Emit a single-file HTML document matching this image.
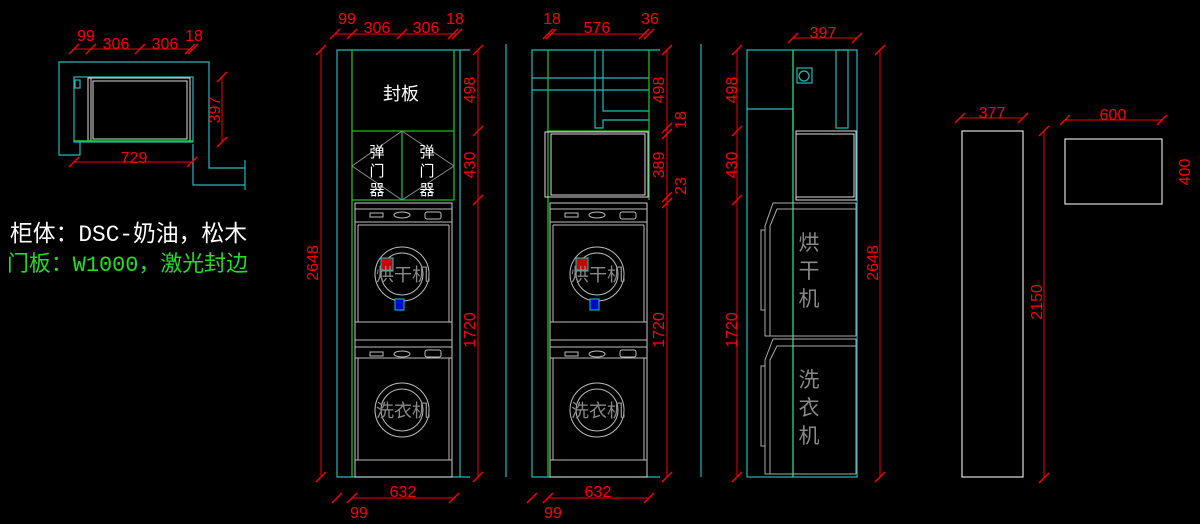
<!DOCTYPE html><html><head><meta charset="utf-8"><style>body{margin:0;background:#000}svg{display:block}text{font-family:"Liberation Sans","Noto Sans CJK SC",sans-serif}</style></head><body>
<svg width="1200" height="524" viewBox="0 0 1200 524" xmlns="http://www.w3.org/2000/svg">
<defs>
<g id="stack" fill="none" stroke="#bbb" stroke-width="1">
<rect x="0" y="0" width="97" height="274" stroke="#ccc"/>
<line x1="0" y1="6" x2="97" y2="6"/><line x1="0" y1="19" x2="97" y2="19"/><line x1="3" y1="22" x2="94" y2="22"/>
<rect x="15" y="10" width="13" height="4"/><ellipse cx="47" cy="12" rx="8" ry="3"/><rect x="70" y="9" width="16" height="7" rx="2"/>
<line x1="3" y1="22" x2="3" y2="119"/><line x1="94" y1="22" x2="94" y2="119"/>
<circle cx="47" cy="71" r="27"/><circle cx="47" cy="71" r="21"/>
<line x1="0" y1="119" x2="97" y2="119"/><line x1="0" y1="137" x2="97" y2="137"/><line x1="0" y1="144" x2="97" y2="144"/><line x1="0" y1="155" x2="97" y2="155"/>
<rect x="15" y="149" width="13" height="4"/><ellipse cx="47" cy="151" rx="8" ry="3"/><rect x="70" y="147" width="16" height="7" rx="2"/>
<line x1="3" y1="155" x2="3" y2="257"/><line x1="94" y1="155" x2="94" y2="257"/><line x1="0" y1="257" x2="97" y2="257"/>
<circle cx="47" cy="207" r="27"/><circle cx="47" cy="207" r="21"/>
<rect x="26" y="55" width="12" height="13" fill="#c00" stroke="#0cc"/><rect x="40" y="96" width="9" height="11" fill="#00c" stroke="#0cc"/>
</g>
<g id="tk" stroke="#f00" stroke-width="1.3"><line x1="-5" y1="5" x2="5" y2="-5"/></g>
</defs>
<g stroke="#e00" stroke-width="1" fill="#f00" font-size="16">
<!-- plan view -->
<g fill="none" stroke="#2bb" stroke-width="1.2">
<polyline points="80,142 80,155 59,155 59,62 209,62 209,168 245,168"/><polyline points="245,160 245,190"/><polyline points="193,144 193,185 245,185"/>
<rect x="74" y="77" width="119" height="65"/><rect x="75" y="80" width="5" height="8"/>
</g>
<g fill="none" stroke="#ddd"><rect x="88" y="78" width="102" height="63"/><rect x="93" y="81" width="94" height="58"/><line x1="91" y1="78" x2="91" y2="141"/></g>
<line x1="74" y1="141" x2="193" y2="141" stroke="#2c2" stroke-width="1.5"/>
<line x1="74" y1="49" x2="192" y2="49"/><use href="#tk" x="74" y="49"/><use href="#tk" x="91" y="49"/><use href="#tk" x="140" y="49"/><use href="#tk" x="190" y="49"/><use href="#tk" x="193" y="49"/>
<line x1="74" y1="162" x2="192" y2="162"/><use href="#tk" x="74" y="162"/><use href="#tk" x="192" y="162"/>
<line x1="222" y1="77" x2="222" y2="142"/><use href="#tk" x="222" y="77"/><use href="#tk" x="222" y="142"/>
<g stroke="none"><text x="86" y="41" text-anchor="middle">99</text><text x="116" y="49" text-anchor="middle">306</text><text x="165" y="49" text-anchor="middle">306</text><text x="194" y="41" text-anchor="middle">18</text><text x="134" y="163" text-anchor="middle">729</text><text transform="translate(220,110) rotate(-90)" text-anchor="middle">397</text></g>
<text x="10" y="241" fill="#fff" stroke="none" font-size="23" textLength="237" lengthAdjust="spacingAndGlyphs" style="font-family:'Liberation Mono','Noto Sans CJK SC',monospace">柜体：DSC-奶油，松木</text>
<text x="7" y="271" fill="#2d2" stroke="none" font-size="22" textLength="241" lengthAdjust="spacingAndGlyphs" style="font-family:'Liberation Mono','Noto Sans CJK SC',monospace">门板：W1000，激光封边</text>

<!-- view 1 -->
<g fill="none" stroke="#2bb" stroke-width="1.2"><polyline points="470,50 337,50 337,477 470,477"/><line x1="460" y1="50" x2="460" y2="477"/><line x1="506" y1="44" x2="506" y2="477"/></g>
<g fill="none" stroke="#2b2" stroke-width="1.3"><line x1="352" y1="50" x2="352" y2="477"/><line x1="454" y1="50" x2="454" y2="200"/><line x1="352" y1="131" x2="454" y2="131"/><line x1="352" y1="200" x2="454" y2="200"/><line x1="402" y1="131" x2="402" y2="200"/></g>
<polyline points="402,131 352,166 402,200 454,166 402,131" fill="none" stroke="#888"/>
<use href="#stack" x="355" y="203"/>
<g stroke="none" fill="#fff" font-size="18" text-anchor="middle"><text x="401" y="100">封板</text><text x="377" y="157" font-size="15">弹</text><text x="377" y="176" font-size="15">门</text><text x="377" y="195" font-size="15">器</text><text x="427" y="157" font-size="15">弹</text><text x="427" y="176" font-size="15">门</text><text x="427" y="195" font-size="15">器</text></g>
<g stroke="none" fill="#888" font-size="18" text-anchor="middle"><text x="403" y="281">烘干机</text><text x="403" y="417">洗衣机</text></g>
<line x1="321" y1="50" x2="321" y2="477"/><use href="#tk" x="321" y="50"/><use href="#tk" x="321" y="477"/>
<line x1="478" y1="50" x2="478" y2="477"/><use href="#tk" x="478" y="50"/><use href="#tk" x="478" y="131"/><use href="#tk" x="478" y="200"/><use href="#tk" x="478" y="477"/>
<line x1="335" y1="34" x2="457" y2="34"/><use href="#tk" x="335" y="34"/><use href="#tk" x="352" y="34"/><use href="#tk" x="402" y="34"/><use href="#tk" x="453" y="34"/><use href="#tk" x="457" y="34"/>
<line x1="352" y1="498" x2="454" y2="498"/><use href="#tk" x="337" y="498"/><use href="#tk" x="352" y="498"/><use href="#tk" x="454" y="498"/>
<g stroke="none"><text x="347" y="24" text-anchor="middle">99</text><text x="377" y="33" text-anchor="middle">306</text><text x="426" y="33" text-anchor="middle">306</text><text x="455" y="24" text-anchor="middle">18</text><text x="403" y="497" text-anchor="middle">632</text><text x="359" y="518" text-anchor="middle">99</text>
<text transform="translate(318,263) rotate(-90)" text-anchor="middle">2648</text><text transform="translate(475,90) rotate(-90)" text-anchor="middle">498</text><text transform="translate(475,165) rotate(-90)" text-anchor="middle">430</text><text transform="translate(475,330) rotate(-90)" text-anchor="middle">1720</text></g>

<!-- view 2 -->
<g fill="none" stroke="#2bb" stroke-width="1.2"><polyline points="660,50 532,50 532,477 660,477"/><line x1="701" y1="44" x2="701" y2="477"/><line x1="532" y1="78" x2="649" y2="78"/><line x1="532" y1="90" x2="649" y2="90"/><polyline points="595,50 595,128 603,128 603,120 649,120"/><polyline points="603,50 603,111 649,111"/></g>
<g fill="none" stroke="#2b2" stroke-width="1.3"><line x1="548" y1="50" x2="548" y2="477"/><line x1="649" y1="50" x2="649" y2="200"/><line x1="548" y1="131" x2="649" y2="131"/></g>
<g fill="none" stroke="#ddd"><rect x="545" y="132" width="103" height="65"/><rect x="551" y="134" width="94" height="61"/></g>
<use href="#stack" x="550" y="203"/>
<g stroke="none" fill="#888" font-size="18" text-anchor="middle"><text x="598" y="281">烘干机</text><text x="598" y="417">洗衣机</text></g>
<line x1="667" y1="50" x2="667" y2="477"/><use href="#tk" x="667" y="50"/><use href="#tk" x="667" y="128"/><use href="#tk" x="667" y="134"/><use href="#tk" x="667" y="197"/><use href="#tk" x="667" y="203"/><use href="#tk" x="667" y="477"/>
<line x1="548" y1="34" x2="647" y2="34"/><use href="#tk" x="548" y="34"/><use href="#tk" x="551" y="34"/><use href="#tk" x="644" y="34"/><use href="#tk" x="649" y="34"/>
<line x1="548" y1="498" x2="649" y2="498"/><use href="#tk" x="532" y="498"/><use href="#tk" x="548" y="498"/><use href="#tk" x="649" y="498"/>
<g stroke="none"><text x="552" y="24" text-anchor="middle">18</text><text x="597" y="33" text-anchor="middle">576</text><text x="650" y="24" text-anchor="middle">36</text><text x="598" y="497" text-anchor="middle">632</text><text x="553" y="518" text-anchor="middle">99</text>
<text transform="translate(664,90) rotate(-90)" text-anchor="middle">498</text><text transform="translate(686,120) rotate(-90)" text-anchor="middle">18</text><text transform="translate(664,165) rotate(-90)" text-anchor="middle">389</text><text transform="translate(686,186) rotate(-90)" text-anchor="middle">23</text><text transform="translate(664,330) rotate(-90)" text-anchor="middle">1720</text></g>

<!-- view 3 -->
<g fill="none" stroke="#2bb" stroke-width="1.2"><rect x="747" y="50" width="110" height="427"/><polyline points="747,109 793,109 793,131"/><rect x="836" y="50" width="12" height="78"/><rect x="797" y="68" width="15" height="15"/><circle cx="804" cy="76" r="5"/></g>
<line x1="793" y1="50" x2="793" y2="477" stroke="#2d8" stroke-width="1.3"/>
<g fill="none" stroke="#ddd"><rect x="796" y="131" width="60" height="69"/><rect x="796" y="134" width="58" height="63"/></g>
<g fill="none" stroke="#aaa"><polyline points="856,203 773,203 765,226 765,336 856,336"/><polyline points="856,209 777,209 770,226 770,336"/><rect x="761" y="230" width="4" height="80"/><line x1="856" y1="203" x2="856" y2="336"/>
<polyline points="856,339 773,339 765,360 765,474 856,474"/><polyline points="856,346 777,346 770,360 770,474"/><rect x="761" y="366" width="4" height="80"/><line x1="856" y1="339" x2="856" y2="474"/></g>
<g stroke="none" fill="#888" font-size="21" text-anchor="middle"><text x="809" y="250">烘</text><text x="809" y="278">干</text><text x="809" y="306">机</text><text x="809" y="387">洗</text><text x="809" y="415">衣</text><text x="809" y="443">机</text></g>
<line x1="737" y1="50" x2="737" y2="477"/><use href="#tk" x="737" y="50"/><use href="#tk" x="737" y="131"/><use href="#tk" x="737" y="200"/><use href="#tk" x="737" y="477"/>
<line x1="880" y1="50" x2="880" y2="477"/><use href="#tk" x="880" y="50"/><use href="#tk" x="880" y="477"/>
<line x1="793" y1="38" x2="857" y2="38"/><use href="#tk" x="793" y="38"/><use href="#tk" x="857" y="38"/>
<g stroke="none"><text x="823" y="38" text-anchor="middle">397</text><text transform="translate(737,90) rotate(-90)" text-anchor="middle">498</text><text transform="translate(737,165) rotate(-90)" text-anchor="middle">430</text><text transform="translate(737,330) rotate(-90)" text-anchor="middle">1720</text><text transform="translate(878,263) rotate(-90)" text-anchor="middle">2648</text></g>

<!-- view 4 -->
<g fill="none" stroke="#ddd" stroke-width="1.2"><rect x="962" y="131" width="61" height="346"/><rect x="1065" y="139" width="97" height="65"/></g>
<line x1="960" y1="118" x2="1023" y2="118"/><use href="#tk" x="960" y="118"/><use href="#tk" x="1023" y="118"/>
<line x1="1044" y1="131" x2="1044" y2="478"/><use href="#tk" x="1044" y="131"/><use href="#tk" x="1044" y="478"/>
<line x1="1065" y1="120" x2="1162" y2="120"/><use href="#tk" x="1065" y="120"/><use href="#tk" x="1162" y="120"/>
<g stroke="none"><text x="992" y="118" text-anchor="middle">377</text><text x="1113" y="120" text-anchor="middle">600</text><text transform="translate(1042,302) rotate(-90)" text-anchor="middle">2150</text><text transform="translate(1190,172) rotate(-90)" text-anchor="middle">400</text></g>
</g>
</svg>
</body></html>
